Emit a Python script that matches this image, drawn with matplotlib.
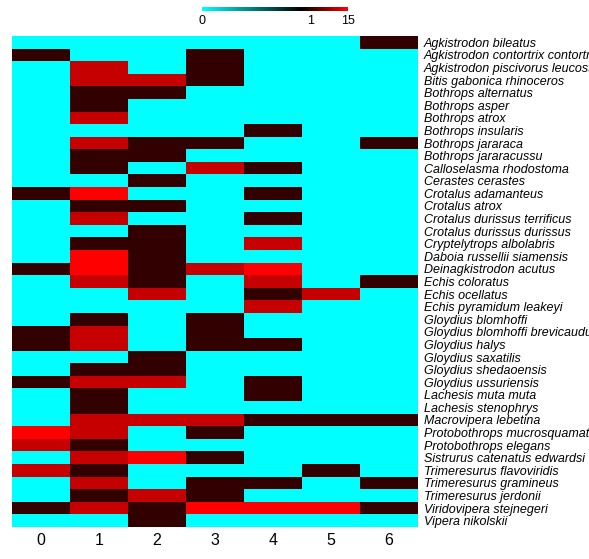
import numpy as np
import matplotlib
matplotlib.use('Agg')
import matplotlib.pyplot as plt
from matplotlib.colors import LinearSegmentedColormap, FuncNorm

plt.rcParams['font.family'] = ['Liberation Sans', 'DejaVu Sans']

species = [
    "Agkistrodon bileatus", "Agkistrodon contortrix contortrix",
    "Agkistrodon piscivorus leucostoma", "Bitis gabonica rhinoceros",
    "Bothrops alternatus", "Bothrops asper", "Bothrops atrox",
    "Bothrops insularis", "Bothrops jararaca", "Bothrops jararacussu",
    "Calloselasma rhodostoma", "Cerastes cerastes", "Crotalus adamanteus",
    "Crotalus atrox", "Crotalus durissus terrificus", "Crotalus durissus durissus",
    "Cryptelytrops albolabris", "Daboia russellii siamensis",
    "Deinagkistrodon acutus", "Echis coloratus", "Echis ocellatus",
    "Echis pyramidum leakeyi", "Gloydius blomhoffi",
    "Gloydius blomhoffi brevicaudus", "Gloydius halys", "Gloydius saxatilis",
    "Gloydius shedaoensis", "Gloydius ussuriensis", "Lachesis muta muta",
    "Lachesis stenophrys", "Macrovipera lebetina",
    "Protobothrops mucrosquamatus", "Protobothrops elegans",
    "Sistrurus catenatus edwardsi", "Trimeresurus flavoviridis",
    "Trimeresurus gramineus", "Trimeresurus jerdonii",
    "Viridovipera stejnegeri", "Vipera nikolskii",
]
column_labels = ['0', '1', '2', '3', '4', '5', '6']

# values per column (one per species, top to bottom)
col0 = [0, 1, 0, 0, 0, 0, 0, 0, 0, 0, 0, 0, 1, 0, 0, 0, 0, 0, 1, 0,
        0, 0, 0, 1, 1, 0, 0, 1, 0, 0, 0, 15, 11, 0, 11, 0, 0, 1, 0]
col1 = [0, 0, 11, 11, 1, 1, 11, 0, 11, 1, 1, 0, 15, 1, 11, 0, 1, 15, 15, 11,
        0, 0, 1, 11, 11, 0, 1, 11, 1, 1, 11, 11, 1, 11, 1, 11, 1, 11, 0]
col2 = [0, 0, 0, 11, 1, 0, 0, 0, 1, 1, 0, 1, 0, 1, 0, 1, 1, 1, 1, 1,
        11, 0, 0, 0, 0, 1, 1, 11, 0, 0, 11, 0, 0, 15, 0, 0, 11, 1, 1]
col3 = [0, 1, 1, 1, 0, 0, 0, 0, 1, 0, 11, 0, 0, 0, 0, 0, 0, 0, 11, 0,
        0, 0, 1, 1, 1, 0, 0, 0, 0, 0, 11, 1, 0, 1, 0, 1, 1, 15, 0]
col4 = [0, 0, 0, 0, 0, 0, 0, 1, 0, 0, 1, 0, 1, 0, 1, 0, 11, 0, 15, 11,
        1, 11, 0, 0, 1, 0, 0, 1, 1, 0, 1, 0, 0, 0, 0, 1, 0, 15, 0]
col5 = [0, 0, 0, 0, 0, 0, 0, 0, 0, 0, 0, 0, 0, 0, 0, 0, 0, 0, 0, 0,
        11, 0, 0, 0, 0, 0, 0, 0, 0, 0, 1, 0, 0, 0, 1, 0, 0, 15, 0]
col6 = [1, 0, 0, 0, 0, 0, 0, 0, 1, 0, 0, 0, 0, 0, 0, 0, 0, 0, 0, 1,
        0, 0, 0, 0, 0, 0, 0, 0, 0, 0, 1, 0, 0, 0, 0, 1, 0, 1, 0]
colorbar_ticks = [0, 1, 15]

data = np.array([col0, col1, col2, col3, col4, col5, col6], dtype=float).T

W, H = 589, 559
fig = plt.figure(figsize=(W / 100, H / 100), dpi=100)

cmap = LinearSegmentedColormap.from_list(
    'cbr', [(0.0, '#00ffff'), (0.68, '#000000'), (1.0, '#ff0000')])
knots_v = [0, 1, 15]
knots_p = [0, 0.746, 1.0]
norm = FuncNorm((lambda x: np.interp(x, knots_v, knots_p),
                 lambda y: np.interp(y, knots_p, knots_v)), vmin=0, vmax=15)

ax = fig.add_axes([12 / W, 1 - 527 / H, (418 - 12) / W, (527 - 36) / H])
im = ax.imshow(data, cmap=cmap, norm=norm, aspect='auto', interpolation='nearest')
for s in ax.spines.values():
    s.set_visible(False)
ax.set_xticks(range(len(column_labels)))
ax.set_xticklabels(column_labels, fontsize=11.5)
ax.yaxis.tick_right()
ax.set_yticks(range(len(species)))
ax.set_yticklabels(species, fontsize=9, fontstyle='italic')
ax.tick_params(axis='both', length=0)
ax.tick_params(axis='y', pad=4)
ax.tick_params(axis='x', pad=4)

cax = fig.add_axes([202 / W, 1 - 11 / H, 146 / W, 4 / H])
cb = fig.colorbar(im, cax=cax, orientation='horizontal', ticks=colorbar_ticks)
cb.outline.set_visible(False)
cax.tick_params(length=0, labelsize=9, pad=3)
cax.set_xticklabels([str(t) for t in colorbar_ticks])

fig.savefig('out.png', dpi=100)
